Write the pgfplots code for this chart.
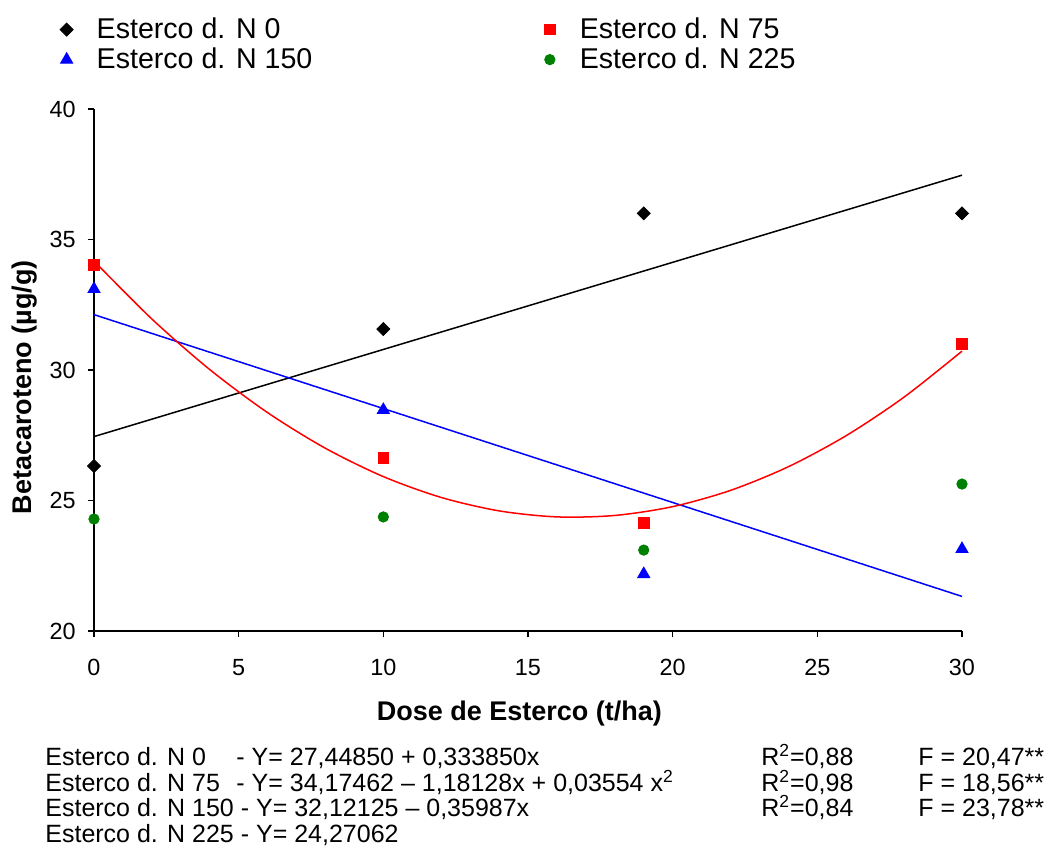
\documentclass[border=0pt]{standalone}
\usepackage{pgfplots}
\pgfplotsset{compat=1.18}
\usepackage{fontspec}
\setmainfont{Liberation Sans}
\definecolor{cred}{HTML}{FF0000}
\definecolor{cblue}{HTML}{0000FF}
\definecolor{cgreen}{HTML}{008000}
\begin{document}
\begin{tikzpicture}
\useasboundingbox (0,0) rectangle (528pt,429pt);
\begin{axis}[
  at={(47pt,113.5pt)}, anchor=south west,
  scale only axis, width=434pt, height=261pt,
  xmin=0, xmax=30, ymin=20, ymax=40,
  xtick={0,5,...,30}, ytick={20,25,...,40},
  axis x line*=bottom, axis y line*=left,
  tick align=outside, major tick length=3.2pt,
  axis line style={line width=0.8pt}, tick style={line width=0.8pt, black},
  /pgf/number format/assume math mode=true,
  ticklabel style={font=\fontsize{11.7}{13}\selectfont},
  xticklabel style={yshift=-7.5pt},
  yticklabel style={xshift=-2.5pt},
  xlabel={\bfseries Dose de Esterco (t/ha)},
  ylabel={\bfseries Betacaroteno (µg/g)},
  label style={font=\fontsize{13.5}{15}\selectfont},
  xlabel style={at={(axis description cs:0.49,-0.1705)}, anchor=base},
  ylabel style={at={(axis description cs:-0.0795,0.467)}, anchor=center},
  clip=false,
  legend columns=2,
  legend style={at={(-0.0407,1.1762)}, anchor=north west, draw=none, fill=none,
    inner sep=0pt, outer sep=0pt, row sep=0pt,
    nodes={inner xsep=0pt, inner ysep=0pt, text height=10.5pt, text depth=4.5pt,
      font=\fontsize{14.3}{16}\selectfont}},
  legend cell align=left,
  legend image code/.code={\path[draw=none,fill=none] (0pt,0pt) -- (19pt,0pt); \draw[#1] plot coordinates {(4pt,1.2pt)};},
]
\addplot[only marks, mark=square*, mark size=2.3pt, black, mark options={rotate=45}] coordinates {(0,26.32) (10,31.57) (19,36.0) (30,36.0)};
\addlegendentry{\makebox[222.6pt][l]{Esterco d. N 0}}
\addplot[only marks, mark=square*, mark size=2.6pt, cred, mark options={draw=cred, fill=cred}] coordinates {(0,34.02) (10,26.63) (19,24.14) (30,31.0)};
\addlegendentry{Esterco d. N 75}
\addplot[only marks, mark=triangle*, mark size=3.5pt, cblue, mark options={draw=cblue, fill=cblue}] coordinates {(0,33.1) (10,28.47) (19,22.18) (30,23.14)};
\addlegendentry{\makebox[222.6pt][l]{Esterco d. N 150}}
\addplot[only marks, mark=*, mark size=2.6pt, cgreen, mark options={draw=cgreen, fill=cgreen}] coordinates {(0,24.29) (10,24.37) (19,23.1) (30,25.63)};
\addlegendentry{Esterco d. N 225}
\addplot[forget plot, black, line width=0.75pt] coordinates {(0,27.4485) (30,37.4640)};
\addplot[forget plot, cblue, line width=0.75pt] coordinates {(0,32.12125) (30,21.3252)};
\addplot[forget plot, cred, line width=0.75pt, smooth] coordinates {
 (0,34.175) (2,31.954) (4,30.018) (6,28.367) (8,27.000) (10,25.916)
 (12,25.117) (14,24.603) (16,24.372) (18,24.427) (20,24.765) (22,25.388)
 (24,26.295) (26,27.487) (28,28.963) (30,30.723)};
\end{axis}
\begin{scope}[every node/.style={inner sep=0pt, anchor=base west, font=\fontsize{12.5}{14}\selectfont}]
\node at (22.5pt,46.5pt) {Esterco d. N 0};
\node at (118pt,46.5pt) {- Y= 27,44850 + 0,333850x};
\node at (380.5pt,46.5pt) {R\textsuperscript{2}=0,88};
\node at (459pt,46.5pt) {F = 20,47**};
\node at (22.5pt,33.5pt) {Esterco d. N 75};
\node at (118pt,33.5pt) {- Y= 34,17462 – 1,18128x + 0,03554 x\textsuperscript{2}};
\node at (380.5pt,33.5pt) {R\textsuperscript{2}=0,98};
\node at (459pt,33.5pt) {F = 18,56**};
\node at (22.5pt,21pt) {Esterco d. N 150 - Y= 32,12125 – 0,35987x};
\node at (380.5pt,21pt) {R\textsuperscript{2}=0,84};
\node at (459pt,21pt) {F = 23,78**};
\node at (22.5pt,8pt) {Esterco d. N 225 - Y= 24,27062};
\end{scope}
\end{tikzpicture}
\end{document}
